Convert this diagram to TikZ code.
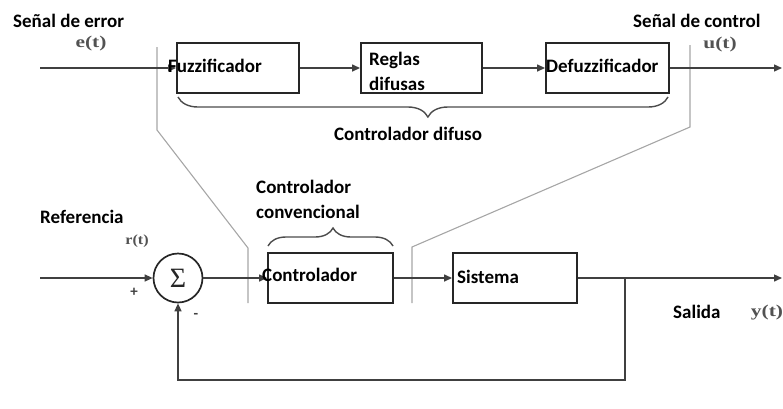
\documentclass[tikz,border=0pt]{standalone}
\usepackage{fontspec}
\setmainfont{Carlito}
\newfontfamily\sigfont{Liberation Serif}
\usetikzlibrary{arrows.meta,decorations.pathreplacing}

\newcommand\sigtxt[1]{\scalebox{1.3}[1]{#1}}

\begin{document}
\begin{tikzpicture}[x=1pt,y=-1pt,
  blk/.style={draw=black!85, line width=1.9pt, inner sep=0pt,
              minimum height=50pt, minimum width=#1},
  txt/.style={font=\fontsize{19}{25}\selectfont\bfseries, inner sep=0pt, text=black},
  sig/.style={font=\fontsize{16.5}{18}\selectfont\sigfont\bfseries, inner sep=0pt, text=black!68},
  flow/.style={draw=black!75, line width=1.4pt, -{Triangle[length=8pt,width=7pt]}},
  guide/.style={draw=black!35, line width=1.1pt},
  brc/.style={draw=black!70, line width=1.4pt, decorate,
              decoration={brace, amplitude=#1}}
]
\useasboundingbox (0,0) rectangle (783,408);

% fuzzy controller chain
\node[blk=122pt] (fuz) at (238,68) {};
\node[blk=121pt] (reg) at (421.5,68) {};
\node[blk=123pt] (def) at (607.5,68) {};

% conventional loop
\node[draw=black!85, line width=1.7pt, circle, minimum size=49pt, inner sep=0pt,
      font=\fontsize{28}{28}\selectfont\sigfont, text=black!85] (sum) at (178,278) {\raisebox{-1.5pt}{Σ}};
\node[blk=125pt] (ctl) at (330.5,278) {};
\node[blk=124pt] (sis) at (515,278) {};

% signal endpoints
\coordinate (ein)  at (40,68);
\coordinate (uout) at (782,68);
\coordinate (rin)  at (40,278);
\coordinate (yout) at (782,278);
\coordinate (tap)  at (625,278);
\coordinate (fbr)  at (625,380);
\coordinate (fbl)  at (178,380);

% zoom guide lines
\draw[guide] (157,47) -- (157,130) -- (248,248) -- (248,303);
\draw[guide] (690,45) -- (690,127) -- (412,247) -- (412,303);

% signal flow
\draw[flow] (ein) -- (fuz.west);
\draw[flow] (fuz.east) -- (reg.west);
\draw[flow] (reg.east) -- (def.west);
\draw[flow] (def.east) -- (uout);
\draw[flow] (rin) -- (sum.west);
\draw[flow] (sum.east) -- (ctl.west);
\draw[flow] (ctl.east) -- (sis.west);
\draw[flow] (sis.east) -- (yout);
\draw[flow] (tap) -- (fbr) -- (fbl) -- (sum.south);

% braces
\draw[brc=20pt, decoration={aspect=0.49}] (668,97) -- (178,97);
\draw[brc=18pt, decoration={aspect=0.52}] (268,246) -- (393,246);

% block texts
\node[txt, anchor=base west] (tfuz) at (168,72) {Fuzzificador};
\node[txt, anchor=north west, align=left] (treg) at (369,52) {Reglas\\difusas};
\node[txt, anchor=base west] (tdef) at (546,72) {Defuzzificador};
\node[txt, anchor=base west] (tctl) at (262,281) {Controlador};
\node[txt, anchor=base west] (tsis) at (457,283) {Sistema};

% annotations
\node[txt, anchor=base west] (lerr) at (13,27) {Señal de error};
\node[txt, anchor=base west] (lctl) at (633,27) {Señal de control};
\node[txt, anchor=base] (ldif) at (408,140) {Controlador difuso};
\node[txt, anchor=north west, align=left] (lconv) at (256,180) {Controlador\\convencional};
\node[txt, anchor=base west] (lref) at (40,223) {Referencia};
\node[txt, anchor=base west] (lsal) at (673,318) {Salida};

% signal names
\node[sig] (se) at (91,44) {\sigtxt{e(t)}};
\node[sig] (su) at (720,45) {\sigtxt{u(t)}};
\node[sig, font=\fontsize{14}{16}\selectfont\sigfont\bfseries] (sr) at (137,241) {\scalebox{1.15}[1]{r(t)}};
\node[sig] (sy) at (767,313) {\sigtxt{y(t)}};

% summing signs
\node[font=\fontsize{15}{15}\selectfont\bfseries, text=black!75, inner sep=0pt] (splus) at (134,292) {+};
\node[font=\fontsize{15}{15}\selectfont\bfseries, text=black!75, inner sep=0pt] (sminus) at (196,316) {-};
\end{tikzpicture}
\end{document}
